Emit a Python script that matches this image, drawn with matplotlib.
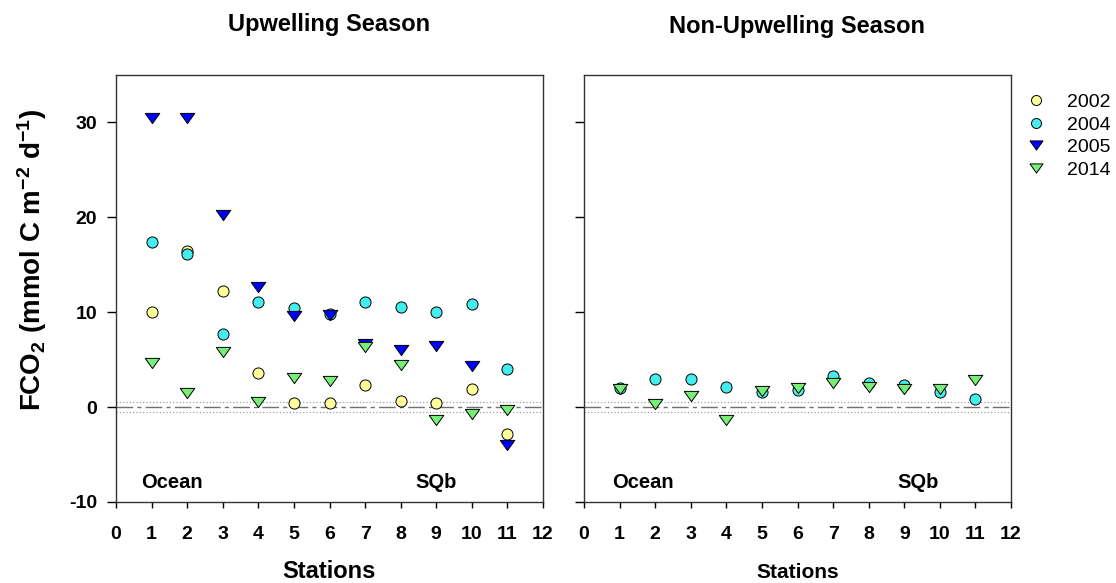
import numpy as np
import matplotlib.pyplot as plt
from matplotlib.lines import Line2D

plt.rcParams["font.family"] = ["Liberation Sans", "DejaVu Sans"]
plt.rcParams["font.weight"] = "bold"
plt.rcParams["mathtext.fontset"] = "custom"
plt.rcParams["mathtext.rm"] = "Liberation Sans:bold"
plt.rcParams["mathtext.default"] = "rm"
plt.rcParams["axes.unicode_minus"] = False

stations = np.arange(1, 12)

# Upwelling season
up_2002 = [10.0, 16.5, 12.2, 3.6, 0.4, 0.4, 2.3, 0.6, 0.4, 1.9, -2.8]
up_2004 = [17.4, 16.1, 7.7, 11.1, 10.4, 9.8, 11.1, 10.6, 10.0, 10.9, 4.0]
up_2005 = [30.5, 30.5, 20.2, 12.7, 9.6, 9.7, 6.6, 6.0, 6.4, 4.3, -4.0]
up_2014 = [4.6, 1.5, 5.8, 0.5, 3.1, 2.8, 6.3, 4.4, -1.4, -0.7, -0.3]

# Non-upwelling season
non_2004 = [2.0, 3.0, 3.0, 2.1, 1.6, 1.8, 3.3, 2.5, 2.3, 1.6, 0.9]
non_2014 = [1.9, 0.3, 1.2, -1.4, 1.7, 2.0, 2.5, 2.1, 1.9, 1.9, 2.9]

years = ["2002", "2004", "2005", "2014"]
colors = {"2002": "#ffff99", "2004": "#44eeee", "2005": "#0000ff", "2014": "#77ee77"}

# wide, flat down-triangle like the original software draws
tri = [(-1, 0.7), (1, 0.7), (0, -0.7), (-1, 0.7)]
markers = {"2002": "o", "2004": "o", "2005": tri, "2014": tri}
msize = {"2002": 8, "2004": 8, "2005": 10.5, "2014": 10.5}

fig = plt.figure(figsize=(11.16, 5.83), dpi=100)
W, H = 1116, 583
ax1 = fig.add_axes([116 / W, 1 - 502 / H, 427 / W, 427 / H])
ax2 = fig.add_axes([584 / W, 1 - 502 / H, 427 / W, 427 / H])


def draw(ax, series):
    for yr, vals in series:
        ax.plot(stations, vals, linestyle="none", marker=markers[yr],
                markersize=msize[yr], markerfacecolor=colors[yr],
                markeredgecolor="black", markeredgewidth=0.7, zorder=3)
    ax.axhline(0, color="#707070", lw=1.0, dashes=(12, 3, 3, 3), zorder=1)
    for v in (0.5, -0.5):
        ax.axhline(v, color="#909090", lw=0.8, ls=(0, (1, 2)), zorder=1)
    ax.set_xlim(0, 12)
    ax.set_ylim(-10, 35)
    ax.set_xticks(range(0, 13))
    ax.set_yticks([-10, 0, 10, 20, 30])
    ax.tick_params(axis="y", direction="out", length=6.5, width=1, labelsize=14, pad=7)
    ax.tick_params(axis="x", direction="out", length=4.5, width=1, labelsize=14, pad=13)
    for s in ax.spines.values():
        s.set_linewidth(1.0)
        s.set_color("#333333")


draw(ax1, [("2002", up_2002), ("2004", up_2004), ("2005", up_2005), ("2014", up_2014)])
draw(ax2, [("2004", non_2004), ("2014", non_2014)])
ax2.set_yticklabels([])

fig.text(329 / W, 1 - 25 / H, "Upwelling Season", fontsize=17,
         fontweight="bold", ha="center", va="center")
fig.text(797 / W, 1 - 27 / H, "Non-Upwelling Season", fontsize=17,
         fontweight="bold", ha="center", va="center")

fig.text(329 / W, 1 - 572 / H, "Stations", fontsize=17,
         fontweight="bold", ha="center", va="center")
fig.text(798 / W, 1 - 573 / H, "Stations", fontsize=15,
         fontweight="bold", ha="center", va="center")

ax1.set_ylabel("FCO$_2$ (mmol C m$^{-2}$ d$^{-1}$)", fontsize=20,
               fontweight="bold", va="center")
ax1.yaxis.set_label_coords((32 - 116) / 427, (502 - 260) / 427)

ax1.text(0.7, -7.9, "Ocean", fontsize=14.5, fontweight="bold", va="center")
ax1.text(8.4, -7.9, "SQb", fontsize=14.5, fontweight="bold", va="center")
ax2.text(0.8, -7.9, "Ocean", fontsize=14.5, fontweight="bold", va="center")
ax2.text(8.8, -7.9, "SQb", fontsize=14.5, fontweight="bold", va="center")

handles = [Line2D([], [], linestyle="none", marker=markers[y],
                  markersize=msize[y] * 0.9, markerfacecolor=colors[y],
                  markeredgecolor="black", markeredgewidth=0.7) for y in years]
fig.legend(handles, years, loc="upper left", bbox_to_anchor=(1009 / W, 1 - 76 / H),
           frameon=False, prop={"size": 14, "weight": "normal"},
           handlelength=1.0, handletextpad=1.1, labelspacing=0.25)

fig.savefig("out.png", dpi=100)
